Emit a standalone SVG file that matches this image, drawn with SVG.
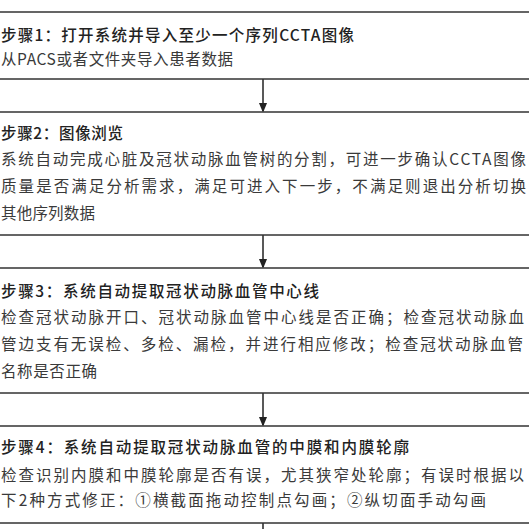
<svg xmlns="http://www.w3.org/2000/svg" width="529" height="529" viewBox="0 0 529 529">
<defs>
<marker id="ah" markerWidth="10" markerHeight="12" refX="10" refY="5" orient="auto" markerUnits="userSpaceOnUse" viewBox="0 0 12 10">
<path d="M0,0 L12,5 L0,10 Z" fill="#222"/>
</marker>
<style>
.box{fill:#fff;stroke:#333;stroke-width:1.5}
.t{font-family:"Noto Sans CJK SC","Liberation Sans",sans-serif;font-size:15.5px;font-weight:500;fill:#222}
.b{font-family:"Noto Sans CJK SC","Liberation Serif",serif;font-size:15.5px;fill:#3a3a3a}
.c{stroke:#222;stroke-width:1.5;fill:none}
</style>
</defs>
<rect width="529" height="529" fill="#fff"/>
<g id="connectors">
<line class="c" x1="263" y1="79" x2="263" y2="111" marker-end="url(#ah)"/>
<line class="c" x1="263" y1="235" x2="263" y2="267" marker-end="url(#ah)"/>
<line class="c" x1="263" y1="393" x2="263" y2="425" marker-end="url(#ah)"/>
<line class="c" x1="263" y1="523" x2="263" y2="535"/>
</g>
<g id="step1">
<rect class="box" x="-10" y="12" width="550" height="67"/>
<text class="t" x="1" y="41" textLength="353" lengthAdjust="spacing">步骤1：打开系统并导入至少一个序列CCTA图像</text>
<text class="b" x="1" y="65" textLength="232" lengthAdjust="spacing">从PACS或者文件夹导入患者数据</text>
</g>
<g id="step2">
<rect class="box" x="-10" y="112" width="550" height="123"/>
<text class="t" x="1" y="139" textLength="122" lengthAdjust="spacing">步骤2：图像浏览</text>
<text class="b" x="1" y="165" textLength="525" lengthAdjust="spacing">系统自动完成心脏及冠状动脉血管树的分割，可进一步确认CCTA图像</text>
<text class="b" x="1" y="192" textLength="525" lengthAdjust="spacing">质量是否满足分析需求，满足可进入下一步，不满足则退出分析切换</text>
<text class="b" x="1" y="219" textLength="94" lengthAdjust="spacing">其他序列数据</text>
</g>
<g id="step3">
<rect class="box" x="-10" y="268" width="550" height="125"/>
<text class="t" x="1" y="297" textLength="318" lengthAdjust="spacing">步骤3：系统自动提取冠状动脉血管中心线</text>
<text class="b" x="1" y="323" textLength="523" lengthAdjust="spacing">检查冠状动脉开口、冠状动脉血管中心线是否正确；检查冠状动脉血</text>
<text class="b" x="1" y="350" textLength="522" lengthAdjust="spacing">管边支有无误检、多检、漏检，并进行相应修改；检查冠状动脉血管</text>
<text class="b" x="1" y="377" textLength="96" lengthAdjust="spacing">名称是否正确</text>
</g>
<g id="step4">
<rect class="box" x="-10" y="426" width="550" height="97"/>
<text class="t" x="1" y="453" textLength="408" lengthAdjust="spacing">步骤4：系统自动提取冠状动脉血管的中膜和内膜轮廓</text>
<text class="b" x="1" y="481" textLength="523" lengthAdjust="spacing">检查识别内膜和中膜轮廓是否有误，尤其狭窄处轮廓；有误时根据以</text>
<text class="b" x="1" y="506" textLength="485" lengthAdjust="spacing">下2种方式修正：①横截面拖动控制点勾画；②纵切面手动勾画</text>
</g>
</svg>
